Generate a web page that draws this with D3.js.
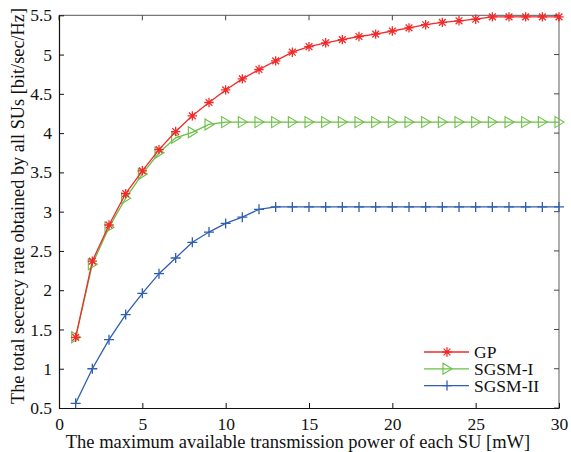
<!DOCTYPE html>
<html><head><meta charset="utf-8">
<script src="https://cdn.jsdelivr.net/npm/d3@7"></script>
<style>body{margin:0;background:#fff}svg{display:block}text{font-family:"Liberation Serif","Times New Roman",serif;}</style>
</head><body>
<script>
const xValues = d3.range(1, 31);
const gp = [1.40,2.37,2.83,3.23,3.52,3.79,4.02,4.22,4.39,4.55,4.69,4.81,4.92,5.03,5.10,5.15,5.19,5.23,5.26,5.30,5.34,5.38,5.41,5.43,5.45,5.48,5.48,5.48,5.48,5.48];
const sgsm1 = [1.40,2.33,2.80,3.17,3.48,3.75,3.94,4.01,4.11,4.14,4.14,4.14,4.14,4.14,4.14,4.14,4.14,4.14,4.14,4.14,4.14,4.14,4.14,4.14,4.14,4.14,4.14,4.14,4.14,4.14];
const sgsm2 = [0.56,1.00,1.37,1.69,1.96,2.21,2.41,2.61,2.74,2.85,2.93,3.03,3.06,3.06,3.06,3.06,3.06,3.06,3.06,3.06,3.06,3.06,3.06,3.06,3.06,3.06,3.06,3.06,3.06,3.06];
const xTicks = [0,5,10,15,20,25,30];
const yTicks = [0.5,1,1.5,2,2.5,3,3.5,4,4.5,5,5.5];
const seriesNames = ["GP","SGSM-I","SGSM-II"];
const colors = ["#f22a2a","#6abf45","#2f5fae"];

const W=571,H=452, L=59, R=559, T=15.3, B=408;
const svg=d3.select("body").append("svg").attr("width",W).attr("height",H);
const x=d3.scaleLinear().domain([0,30]).range([L,R]);
const y=d3.scaleLinear().domain([0.5,5.5]).range([B,T]);

svg.append("line").attr("x1",L).attr("x2",R).attr("y1",T).attr("y2",T).attr("stroke","#777").attr("stroke-width",1.2);
svg.append("line").attr("x1",R).attr("x2",R).attr("y1",T).attr("y2",B).attr("stroke","#777").attr("stroke-width",1.2);
xTicks.forEach(t=>{svg.append("line").attr("x1",x(t)).attr("x2",x(t)).attr("y1",T).attr("y2",T+5).attr("stroke","#444");});
yTicks.forEach(t=>{svg.append("line").attr("x1",R).attr("x2",R-5).attr("y1",y(t)).attr("y2",y(t)).attr("stroke","#444");});

const xAxis=svg.append("g").attr("transform",`translate(0,${B})`).call(d3.axisBottom(x).tickValues(xTicks).tickSizeInner(-5).tickSizeOuter(0).tickPadding(10).tickFormat(d3.format("d")));
const yAxis=svg.append("g").attr("transform",`translate(${L},0)`).call(d3.axisLeft(y).tickValues(yTicks).tickSizeInner(-5).tickSizeOuter(0).tickPadding(7).tickFormat(d=>d));
[xAxis,yAxis].forEach(g=>{g.selectAll("text").attr("font-size",17.5).attr("fill","#111").style("font-family","Liberation Serif");g.select(".domain").attr("stroke","#111").attr("stroke-width",1.2);g.selectAll(".tick line").attr("stroke","#111");});

svg.append("text").attr("x",298).attr("y",448).attr("text-anchor","middle").attr("font-size",18.5).attr("fill","#111").text("The maximum available transmission power of each SU [mW]");
svg.append("text").attr("transform",`translate(24,206) rotate(-90)`).attr("text-anchor","middle").attr("font-size",18.3).attr("fill","#111").text("The total secrecy rate obtained by all SUs [bit/sec/Hz]");

function marker(g,type,cx,cy,color){
  if(type===0){
    const r=4.7;
    g.append("path").attr("d",`M${cx-r},${cy}H${cx+r}M${cx},${cy-r}V${cy+r}M${cx-r*0.72},${cy-r*0.72}L${cx+r*0.72},${cy+r*0.72}M${cx-r*0.72},${cy+r*0.72}L${cx+r*0.72},${cy-r*0.72}`).attr("stroke",color).attr("stroke-width",1.3).attr("fill","none");
  } else if(type===1){
    g.append("path").attr("d",`M${cx-4},${cy-5.5}L${cx+5},${cy}L${cx-4},${cy+5.5}Z`).attr("stroke",color).attr("stroke-width",1.1).attr("fill","none");
  } else {
    const r=5;
    g.append("path").attr("d",`M${cx-r},${cy}H${cx+r}M${cx},${cy-r}V${cy+r}`).attr("stroke",color).attr("stroke-width",1.3).attr("fill","none");
  }
}

const data=[gp,sgsm1,sgsm2];
const line=d3.line().x((d,i)=>x(xValues[i])).y(d=>y(d));
[2,1,0].forEach(k=>{
  const g=svg.append("g");
  g.append("path").datum(data[k]).attr("d",line).attr("fill","none").attr("stroke",colors[k]).attr("stroke-width",1.3);
  data[k].forEach((v,i)=>marker(g,k,x(xValues[i]),y(v),colors[k]));
});

const lg=svg.append("g");
seriesNames.forEach((n,i)=>{
  const yy=352+i*16.8;
  lg.append("line").attr("x1",424).attr("x2",469).attr("y1",yy).attr("y2",yy).attr("stroke",colors[i]).attr("stroke-width",1.3);
  marker(lg,i,447,yy,colors[i]);
  lg.append("text").attr("x",474).attr("y",yy+6).attr("font-size",17.5).attr("fill","#111").text(n);
});
</script>
</body></html>
